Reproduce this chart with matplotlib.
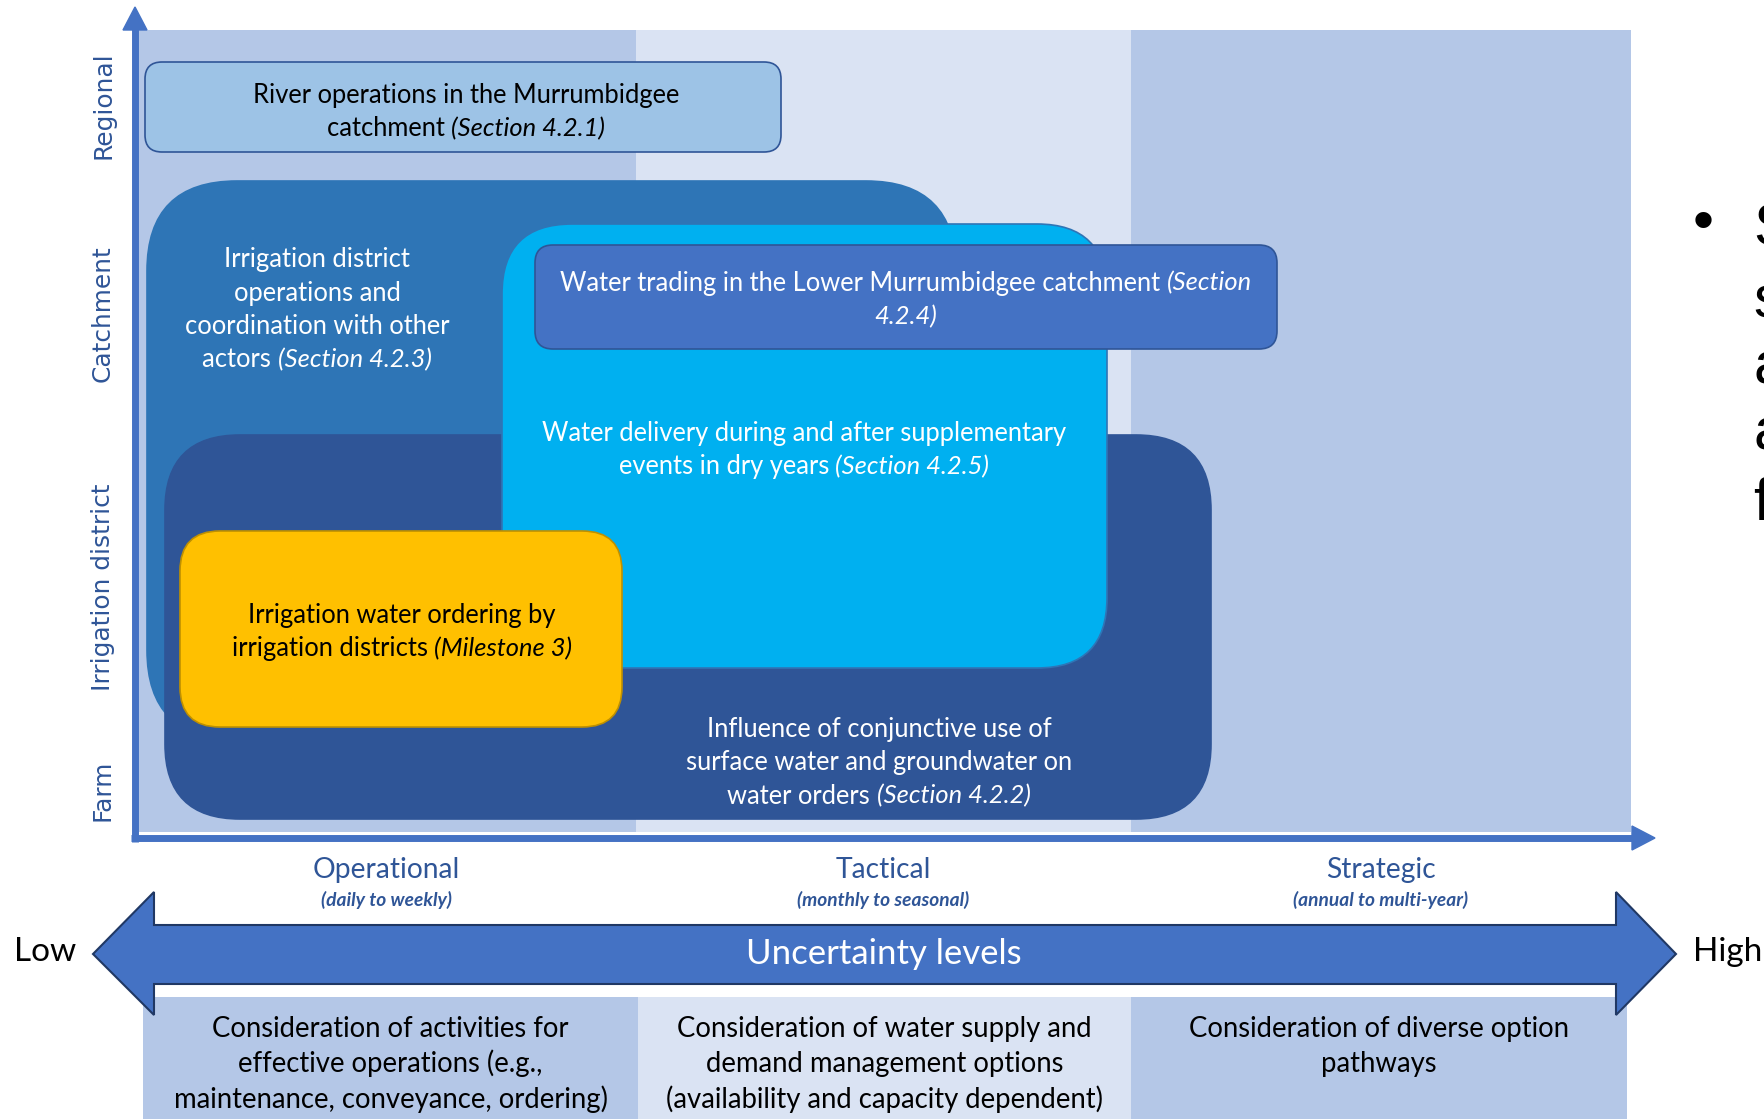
"""Scale/timescale diagram for the Murrumbidgee water-ordering studies."""

import matplotlib.pyplot as plt
from matplotlib import font_manager
from matplotlib.patches import FancyBboxPatch, Polygon, Rectangle

W, H = 1764, 1119  # canvas in pixels, drawn at dpi=100

# decision timescales along the x axis
TIMESCALES = ["Operational", "Tactical", "Strategic"]
TIMESCALE_SPANS = ["(daily to weekly)", "(monthly to seasonal)", "(annual to multi-year)"]
CONSIDERATIONS = [
    "Consideration of activities for\neffective operations (e.g.,\nmaintenance, conveyance, ordering)",
    "Consideration of water supply and\ndemand management options\n(availability and capacity dependent)",
    "Consideration of diverse option\npathways",
]

# spatial scales along the y axis
SCALES = ["Regional", "Catchment", "Irrigation district", "Farm"]
SCALE_Y = [105, 314, 587, 790]

# study boxes, back to front; *...* marks italic text
BOX_TEXT = [
    ["River operations in the Murrumbidgee", "catchment *(Section 4.2.1)*"],
    ["Irrigation district", "operations and", "coordination with other", "actors *(Section 4.2.3)*"],
    ["Influence of conjunctive use of", "surface water and groundwater on", "water orders *(Section 4.2.2)*"],
    ["Water delivery during and after supplementary", "events in dry years *(Section 4.2.5)*"],
    ["Water trading in the Lower Murrumbidgee catchment *(Section*", "*4.2.4)*"],
    ["Irrigation water ordering by", "irrigation districts *(Milestone 3)*"],
]
# x0, y0, x1, y1, corner radius
BOX_EXTENT = [
    (145, 62, 781, 152, 17),
    (147, 181, 956, 740, 90),
    (165, 435, 1211, 819, 75),
    (502, 224, 1107, 668, 70),
    (535, 245, 1277, 349, 18),
    (180, 531, 622, 727, 40),
]
BOX_FACE = ["#9DC3E6", "#2E75B6", "#2F5597", "#00B0F0", "#4472C4", "#FFC000"]
BOX_EDGE = ["#2F5597", "#2E75B6", "#2F5597", "#2F75B6", "#2F5597", "#BF9000"]
BOX_TEXT_XY = [(466, 110), (317, 308), (879, 761), (804, 448), (906, 298), (402, 630)]
BOX_TEXT_COLOR = ["black", "white", "white", "white", "white", "black"]

COL_EDGES = [137, 636, 1131, 1631]
FOOT_EDGES = [143, 638, 1131, 1627]
COL_COLORS = ["#B4C7E7", "#DAE3F3", "#B4C7E7"]

AXIS_BLUE = "#4472C4"
LABEL_BLUE = "#2F5597"

installed = {f.name for f in font_manager.fontManager.ttflist}
BODY = "Lato" if "Lato" in installed else "DejaVu Sans"


def px(pt):
    return pt * 100 / 72


def advance(ax, s, **kw):
    r = ax.figure.canvas.get_renderer()
    a = ax.text(0, 0, "|" + s + "|", **kw)
    b = ax.text(0, 0, "||", **kw)
    w = a.get_window_extent(r).width - b.get_window_extent(r).width
    a.remove()
    b.remove()
    return w


def rich_text(ax, cx, cy, lines, size, color, spacing, zorder=10):
    n = len(lines)
    for i, line in enumerate(lines):
        parts = line.split("*")
        styles = ["italic" if j % 2 else "normal" for j in range(len(parts))]
        widths = [advance(ax, p, family=BODY, fontsize=size, style=st)
                  for p, st in zip(parts, styles)]
        x = cx - sum(widths) / 2
        y = cy + (i - (n - 1) / 2) * spacing + 0.36 * px(size)
        for p, st, w in zip(parts, styles, widths):
            if p:
                ax.text(x, y, p, family=BODY, fontsize=size, style=st, color=color,
                        ha="left", va="baseline", zorder=zorder)
            x += w


fig = plt.figure(figsize=(W / 100, H / 100), dpi=100)
ax = fig.add_axes([0, 0, 1, 1])
ax.set_xlim(0, W)
ax.set_ylim(H, 0)
ax.axis("off")

# background columns for the three timescales
for i, c in enumerate(COL_COLORS):
    ax.add_patch(Rectangle((COL_EDGES[i], 30), COL_EDGES[i + 1] - COL_EDGES[i], 802,
                           facecolor=c, edgecolor="none", zorder=0))
    ax.add_patch(Rectangle((FOOT_EDGES[i], 997), FOOT_EDGES[i + 1] - FOOT_EDGES[i], H - 997,
                           facecolor=c, edgecolor="none", zorder=0))

# axes with arrow heads
ax.plot([135, 135], [842, 28], color=AXIS_BLUE, lw=5, solid_capstyle="butt", zorder=1)
ax.add_patch(Polygon([(123, 30), (147, 30), (135, 7)], closed=True, color=AXIS_BLUE, zorder=1))
ax.plot([131, 1634], [838, 838], color=AXIS_BLUE, lw=5, solid_capstyle="butt", zorder=1)
ax.add_patch(Polygon([(1632, 826), (1632, 850), (1655, 838)], closed=True, color=AXIS_BLUE, zorder=1))

for i, (x0, y0, x1, y1, r) in enumerate(BOX_EXTENT):
    ax.add_patch(FancyBboxPatch((x0, y0), x1 - x0, y1 - y0,
                                boxstyle=f"round,pad=0,rounding_size={r}",
                                facecolor=BOX_FACE[i], edgecolor=BOX_EDGE[i], lw=1.2,
                                zorder=2 + i))
for i, lines in enumerate(BOX_TEXT):
    cx, cy = BOX_TEXT_XY[i]
    rich_text(ax, cx, cy, lines, 18.4, BOX_TEXT_COLOR[i], 33.3)

for name, y in zip(SCALES, SCALE_Y):
    ax.text(103, y, name, rotation=90, ha="center", va="center", family="DejaVu Sans",
            fontsize=17.9, color=LABEL_BLUE)

for i, name in enumerate(TIMESCALES):
    cx = (COL_EDGES[i] + COL_EDGES[i + 1]) / 2
    ax.text(cx, 870, name, ha="center", va="center", family=BODY, fontsize=20.3,
            color=LABEL_BLUE)
    ax.text(cx, 900, TIMESCALE_SPANS[i], ha="center", va="center", family=BODY,
            fontsize=13.8, style="italic", weight="bold", color=LABEL_BLUE)
    fx = (FOOT_EDGES[i] + FOOT_EDGES[i + 1]) / 2
    rich_text(ax, fx, 1027 + 35.5 * (CONSIDERATIONS[i].count("\n")) / 2,
              CONSIDERATIONS[i].split("\n"), 19.8, "black", 35.5)

# double-headed uncertainty arrow
ax.add_patch(Polygon([(93, 954), (154, 892), (154, 925), (1616, 925), (1616, 892),
                      (1676, 954), (1616, 1015), (1616, 984), (154, 984), (154, 1015)],
                     closed=True, facecolor=AXIS_BLUE, edgecolor="#203864", lw=1.5, zorder=3))
ax.text(884, 954, "Uncertainty levels", ha="center", va="center", family=BODY,
        fontsize=25, color="white", zorder=4)
ax.text(14, 952, "Low", ha="left", va="center", family=BODY, fontsize=24, color="black")
ax.text(1693, 952, "High", ha="left", va="center", family=BODY, fontsize=24, color="black")

# start of the neighbouring bullet text, running off the right edge
ax.text(1703, 225, "\u2022", ha="center", va="center", family="Liberation Sans",
        fontsize=43, color="black")
for ch, yb in zip(["S", "s", "a", "a", "f"], [245, 317, 383, 450, 520]):
    ax.text(1753, yb, ch, ha="left", va="baseline", family="Liberation Sans",
            fontsize=43, color="black", clip_on=False)

fig.savefig("out.png", dpi=100)
